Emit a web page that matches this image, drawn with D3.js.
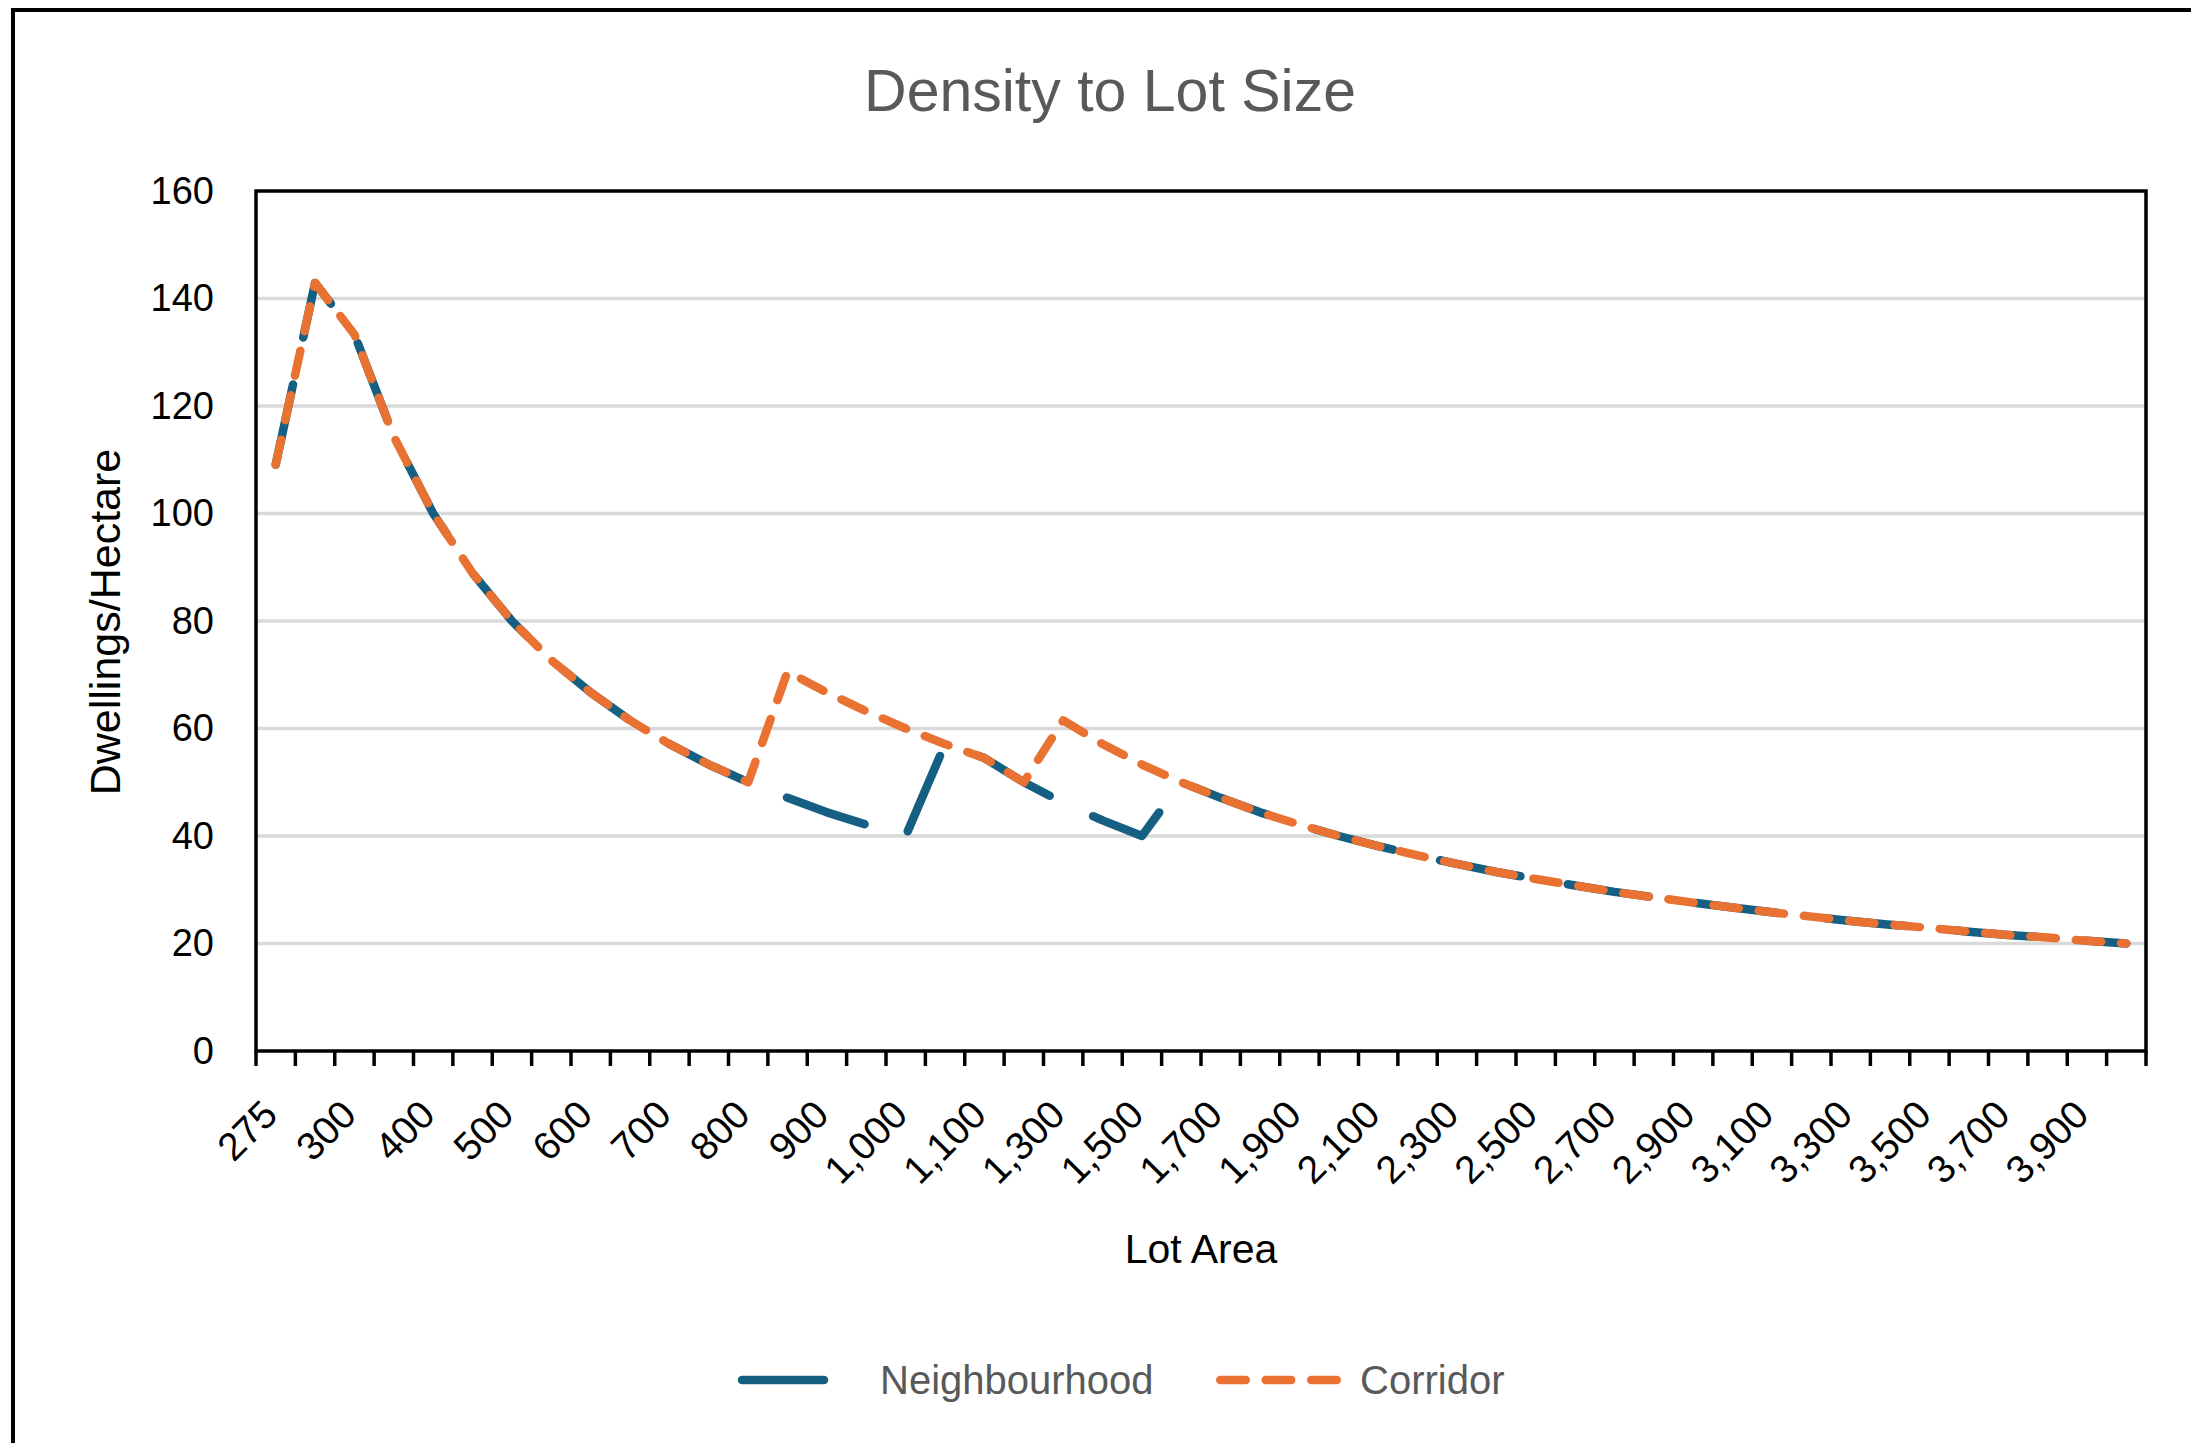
<!DOCTYPE html>
<html>
<head>
<meta charset="utf-8">
<script src="https://cdn.jsdelivr.net/npm/d3@7"></script>
<style>
  body { margin: 0; background: #fff; }
  svg { display: block; font-family: "Liberation Sans", Arial, sans-serif; }
</style>
</head>
<body>
<svg></svg>
<script>
// lot areas (m2), one per category on the x axis
let lotAreas = [275, 280, 300, 350, 400, 450, 500, 550, 600, 650, 700, 750, 800, 850, 900, 950, 1000, 1050,
  1100, 1200, 1300, 1400, 1500, 1600, 1700, 1800, 1900, 2000, 2100, 2200, 2300, 2400, 2500, 2600, 2700,
  2800, 2900, 3000, 3100, 3200, 3300, 3400, 3500, 3600, 3700, 3800, 3900, 4000];

// dwellings per hectare
let neighbourhood = [109.1, 142.9, 133.3, 114.3, 100, 88.9, 80, 72.7, 66.7, 61.5, 57.1, 53.3, 50, 47.1, 44.4, 42.1, 40, 57.1,
  54.5, 50, 46.2, 42.9, 40, 50, 47.1, 44.4, 42.1, 40, 38.1, 36.4, 34.8, 33.3, 32, 30.8, 29.6,
  28.6, 27.6, 26.7, 25.8, 25, 24.2, 23.5, 22.9, 22.2, 21.6, 21.1, 20.5, 20];

let corridor = [109.1, 142.9, 133.3, 114.3, 100, 88.9, 80, 72.7, 66.7, 61.5, 57.1, 53.3, 50, 70.6, 66.7, 63.2, 60, 57.1,
  54.5, 50, 61.5, 57.1, 53.3, 50, 47.1, 44.4, 42.1, 40, 38.1, 36.4, 34.8, 33.3, 32, 30.8, 29.6,
  28.6, 27.6, 26.7, 25.8, 25, 24.2, 23.5, 22.9, 22.2, 21.6, 21.1, 20.5, 20];

let yTicks = [0, 20, 40, 60, 80, 100, 120, 140, 160];
let seriesNames = ['Neighbourhood', 'Corridor'];

let width = 2191, height = 1443;
let plot = {left: 256, right: 2146, top: 191, bottom: 1051};
let lineWidth = 8.5;

let svg = d3.select('svg')
              .attr('width', width)
              .attr('height', height);

// outer chart border (runs off the right and bottom of the picture)
svg.append('rect')
    .attr('x', 13)
    .attr('y', 10)
    .attr('width', 2400)
    .attr('height', 1600)
    .attr('fill', 'none')
    .attr('stroke', '#000')
    .attr('stroke-width', 4);

let x = d3.scaleBand()
            .domain(lotAreas)
            .range([plot.left, plot.right])
            .padding(0);

let y = d3.scaleLinear()
            .domain([0, 160])
            .range([plot.bottom, plot.top]);

let cx = (d, i) => x(lotAreas[i]) + x.bandwidth() / 2;

// gridlines
svg.append('g')
    .selectAll('line')
    .data(yTicks.filter(t => t > 0 && t < 160))
    .enter()
    .append('line')
      .attr('x1', plot.left)
      .attr('x2', plot.right)
      .attr('y1', d => y(d))
      .attr('y2', d => y(d))
      .attr('stroke', '#d9d9d9')
      .attr('stroke-width', 3.5);

// y axis labels
let yAxis = svg.append('g')
                .attr('transform', `translate(${plot.left},0)`)
                .call(d3.axisLeft(y).tickValues(yTicks).tickSize(0).tickPadding(42));
yAxis.select('.domain').remove();
yAxis.selectAll('text')
      .attr('font-size', 38)
      .attr('font-family', '"Liberation Sans", Arial, sans-serif')
      .attr('fill', '#000');

// x tick marks sit between categories
let boundaries = lotAreas.map(c => x(c)).concat([plot.right]);
svg.append('g')
    .selectAll('line')
    .data(boundaries)
    .enter()
    .append('line')
      .attr('x1', d => d)
      .attr('x2', d => d)
      .attr('y1', plot.bottom)
      .attr('y2', plot.bottom + 15)
      .attr('stroke', '#000')
      .attr('stroke-width', 3.5);

// x labels, every second category
let xAxis = svg.append('g')
                .attr('transform', `translate(0,${plot.bottom})`)
                .call(d3.axisBottom(x)
                        .tickValues(lotAreas.filter((d, i) => i % 2 === 0))
                        .tickSize(0)
                        .tickFormat(d3.format(',')));
xAxis.select('.domain').remove();
xAxis.selectAll('text')
      .attr('x', 0)
      .attr('y', 0)
      .attr('dy', 0)
      .attr('text-anchor', 'end')
      .attr('transform', 'translate(4,66) rotate(-45)')
      .attr('font-size', 39)
      .attr('font-family', '"Liberation Sans", Arial, sans-serif')
      .attr('fill', '#000');

// plot area border
svg.append('rect')
    .attr('x', plot.left)
    .attr('y', plot.top)
    .attr('width', plot.right - plot.left)
    .attr('height', plot.bottom - plot.top)
    .attr('fill', 'none')
    .attr('stroke', '#000')
    .attr('stroke-width', 3.5);

let line = d3.line()
              .x(cx)
              .y(d => y(d));

let styles = {
  Neighbourhood: {color: '#156082', dash: '82 48'},
  Corridor: {color: '#e97132', dash: '25.5 20'}
};

svg.append('path')
    .datum(neighbourhood)
    .attr('d', line)
    .attr('fill', 'none')
    .attr('stroke', styles.Neighbourhood.color)
    .attr('stroke-width', lineWidth)
    .attr('stroke-dasharray', styles.Neighbourhood.dash)
    .attr('stroke-linecap', 'round')
    .attr('stroke-linejoin', 'round');

svg.append('path')
    .datum(corridor)
    .attr('d', line)
    .attr('fill', 'none')
    .attr('stroke', styles.Corridor.color)
    .attr('stroke-width', lineWidth)
    .attr('stroke-dasharray', styles.Corridor.dash)
    .attr('stroke-linecap', 'round')
    .attr('stroke-linejoin', 'round');

// title and axis titles
svg.append('text')
    .attr('x', 1110)
    .attr('y', 111)
    .attr('text-anchor', 'middle')
    .attr('font-size', 59)
    .attr('fill', '#595959')
    .text('Density to Lot Size');

svg.append('text')
    .attr('x', 1201)
    .attr('y', 1263)
    .attr('text-anchor', 'middle')
    .attr('font-size', 41)
    .attr('fill', '#000')
    .text('Lot Area');

svg.append('text')
    .attr('transform', 'translate(120,622) rotate(-90)')
    .attr('text-anchor', 'middle')
    .attr('font-size', 43)
    .attr('fill', '#000')
    .text('Dwellings/Hectare');

// legend
let legendItems = [
  {name: seriesNames[0], x1: 742, x2: 858, tx: 880},
  {name: seriesNames[1], x1: 1220.25, x2: 1336.75, tx: 1360}
];
let legend = svg.append('g')
                .selectAll('g')
                .data(legendItems)
                .enter()
                .append('g');

legend.append('line')
        .attr('x1', d => d.x1)
        .attr('x2', d => d.x2)
        .attr('y1', 1380)
        .attr('y2', 1380)
        .attr('stroke', d => styles[d.name].color)
        .attr('stroke-width', lineWidth)
        .attr('stroke-dasharray', d => styles[d.name].dash)
        .attr('stroke-linecap', 'round');

legend.append('text')
        .attr('x', d => d.tx)
        .attr('y', 1394)
        .attr('font-size', 40)
        .attr('fill', '#595959')
        .text(d => d.name);
</script>
</body>
</html>
